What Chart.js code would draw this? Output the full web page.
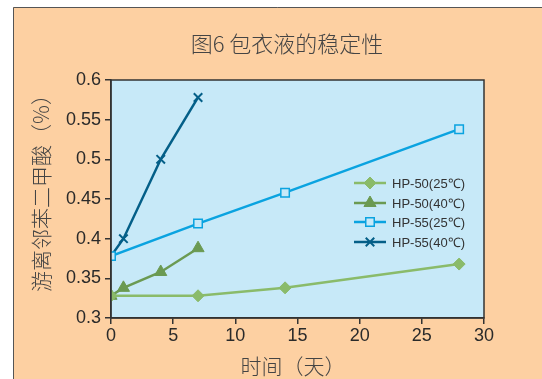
<!DOCTYPE html>
<html>
<head>
<meta charset="utf-8">
<script src="https://cdn.jsdelivr.net/npm/chart.js@4"></script>
<style>
  html, body { margin: 0; padding: 0; background: #ffffff; }
  #wrap { width: 542px; height: 379px; position: relative; }
</style>
</head>
<body>
<div id="wrap"><canvas id="c" width="542" height="379"></canvas></div>
<script>
// Free phthalic acid (%) over storage time (days)
const seriesNames = ['HP-50(25℃)', 'HP-50(40℃)', 'HP-55(25℃)', 'HP-55(40℃)'];
const hp50_25_days = [0, 7, 14, 28];
const hp50_25_vals = [0.328, 0.328, 0.338, 0.368];
const hp50_40_days = [0, 1, 4, 7];
const hp50_40_vals = [0.328, 0.338, 0.358, 0.388];
const hp55_25_days = [0, 7, 14, 28];
const hp55_25_vals = [0.378, 0.419, 0.458, 0.538];
const hp55_40_days = [0, 1, 4, 7];
const hp55_40_vals = [0.378, 0.400, 0.500, 0.578];
const xTicks = [0, 5, 10, 15, 20, 25, 30];
const yTicks = [0.3, 0.35, 0.4, 0.45, 0.5, 0.55, 0.6];

const chartTitle = '图6 包衣液的稳定性';
const xTitle = '时间（天）';
const yTitle = '游离邻苯二甲酸（%）';

const pts = (xs, ys) => xs.map((x, i) => ({ x: x, y: ys[i] }));

const FONT = '"Liberation Sans", Arial, sans-serif';
const CJK = '"Noto Sans CJK SC", sans-serif';

// Peach frame, plot box, titles and in-plot legend
const decor = {
  id: 'decor',
  beforeDraw(chart) {
    const ctx = chart.ctx;
    const a = chart.chartArea;
    ctx.save();
    ctx.fillStyle = '#fdd0a2';
    ctx.fillRect(13, 7, 542 - 13, 379 - 7);
    ctx.strokeStyle = '#555';
    ctx.lineWidth = 1;
    ctx.beginPath();
    ctx.moveTo(13.5, 379);
    ctx.lineTo(13.5, 7.5);
    ctx.lineTo(542, 7.5);
    ctx.stroke();
    ctx.fillStyle = '#c7e9f8';
    ctx.fillRect(a.left, a.top, a.right - a.left, a.bottom - a.top);
    ctx.restore();
  },
  afterDraw(chart) {
    const ctx = chart.ctx;
    const a = chart.chartArea;
    ctx.save();
    ctx.strokeStyle = '#333';
    ctx.lineWidth = 1.5;
    ctx.strokeRect(a.left, a.top, a.right - a.left, a.bottom - a.top);

    ctx.fillStyle = '#444';
    ctx.textAlign = 'center';
    ctx.textBaseline = 'middle';
    ctx.font = '300 22px ' + CJK;
    ctx.fillText(chartTitle, 287, 44);

    ctx.font = '300 21px ' + CJK;
    ctx.fillText(xTitle, 293, 366);

    ctx.translate(41, 188);
    ctx.rotate(-Math.PI / 2);
    ctx.fillText(yTitle, 0, 0);
    ctx.restore();

    // legend rows: line segment, marker, label
    const ds = chart.data.datasets;
    const x0 = 354, x1 = 386, rowY = [183, 203, 222, 242];
    ds.forEach((d, i) => {
      const y = rowY[i];
      ctx.save();
      ctx.strokeStyle = d.borderColor;
      ctx.lineWidth = 2.5;
      ctx.beginPath();
      ctx.moveTo(x0, y);
      ctx.lineTo(x1, y);
      ctx.stroke();
      ctx.fillStyle = d.pointBackgroundColor;
      ctx.strokeStyle = d.pointBorderColor;
      ctx.lineWidth = d.pointBorderWidth;
      Chart.helpers.drawPoint(ctx, {
        pointStyle: d.pointStyle,
        radius: d.pointRadius,
        borderWidth: d.pointBorderWidth,
        rotation: 0
      }, (x0 + x1) / 2, y);
      ctx.fillStyle = '#333';
      ctx.font = '13px ' + FONT;
      ctx.textAlign = 'left';
      ctx.textBaseline = 'middle';
      ctx.fillText(d.label, 392, y + 1);
      ctx.restore();
    });
  }
};

new Chart(document.getElementById('c'), {
  type: 'line',
  data: {
    datasets: [
      {
        label: seriesNames[0], data: pts(hp50_25_days, hp50_25_vals),
        borderColor: '#8abb6a', backgroundColor: '#8abb6a',
        pointStyle: 'rectRot', pointRadius: 6,
        pointBackgroundColor: '#8abb6a', pointBorderColor: '#8abb6a', pointBorderWidth: 1,
        borderWidth: 2.5
      },
      {
        label: seriesNames[1], data: pts(hp50_40_days, hp50_40_vals),
        borderColor: '#6b9a52', backgroundColor: '#6b9a52',
        pointStyle: 'triangle', pointRadius: 7,
        pointBackgroundColor: '#6b9a52', pointBorderColor: '#6b9a52', pointBorderWidth: 1,
        borderWidth: 2.5
      },
      {
        label: seriesNames[2], data: pts(hp55_25_days, hp55_25_vals),
        borderColor: '#0aa3e0', backgroundColor: '#c7e9f8',
        pointStyle: 'rect', pointRadius: 6,
        pointBackgroundColor: '#c7e9f8', pointBorderColor: '#0aa3e0', pointBorderWidth: 1.5,
        borderWidth: 2.5
      },
      {
        label: seriesNames[3], data: pts(hp55_40_days, hp55_40_vals),
        borderColor: '#045f88', backgroundColor: '#045f88',
        pointStyle: 'crossRot', pointRadius: 6,
        pointBackgroundColor: '#045f88', pointBorderColor: '#045f88', pointBorderWidth: 2,
        borderWidth: 2.5
      }
    ]
  },
  options: {
    responsive: false,
    animation: false,
    devicePixelRatio: 1,
    layout: { padding: { left: 0, top: 80, right: 58, bottom: 0 } },
    plugins: {
      legend: { display: false },
      title: { display: false },
      tooltip: { enabled: false }
    },
    scales: {
      x: {
        type: 'linear', min: 0, max: 30,
        afterBuildTicks: s => { s.ticks = xTicks.map(v => ({ value: v })); },
        afterFit: s => { s.height = 61; },
        grid: { drawOnChartArea: false, drawTicks: true, tickLength: 6, color: '#333', lineWidth: 1.5 },
        border: { display: true, color: '#333', width: 1.5 },
        ticks: { color: '#2a2a2a', font: { family: FONT, size: 18 }, padding: 1, maxRotation: 0 }
      },
      y: {
        type: 'linear', min: 0.3, max: 0.6,
        afterBuildTicks: s => { s.ticks = yTicks.map(v => ({ value: v })); },
        afterFit: s => { s.width = 111; },
        grid: { drawOnChartArea: false, drawTicks: true, tickLength: 6, color: '#333', lineWidth: 1.5 },
        border: { display: true, color: '#333', width: 1.5 },
        ticks: { color: '#2a2a2a', font: { family: FONT, size: 18 }, padding: 4,
                 callback: v => String(Math.round(v * 100) / 100) }
      }
    }
  },
  plugins: [decor]
});
</script>
</body>
</html>
